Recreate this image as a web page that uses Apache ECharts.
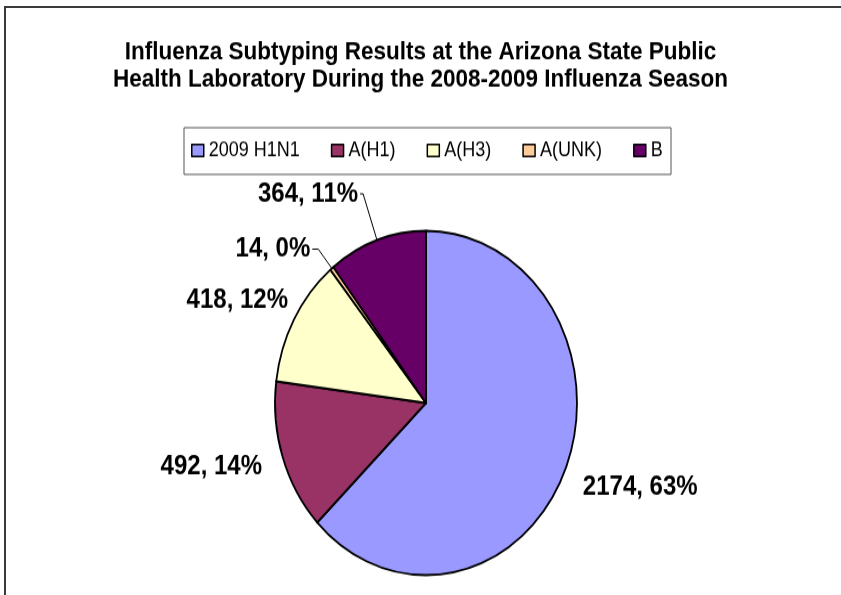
<!DOCTYPE html>
<html>
  <head>
    <meta charset="utf-8" />
    <title>Influenza Subtyping</title>
    <script src="https://cdn.jsdelivr.net/npm/echarts@6/dist/echarts.min.js"></script>
    <style>
      html { overflow: hidden; }
      html, body { margin: 0; padding: 0; background: #fff; width: 841px; height: 595px; position: relative; }
      /* the original pie is an ellipse, so the chart is stretched vertically */
      #main { width: 841px; height: 522px; transform: scaleY(1.14); transform-origin: 0 0; }
      /* outer frame: only its left and top edges show in the picture */
      #frame { position: absolute; left: 4px; top: 6px; width: 860px; height: 620px;
               border-left: 2px solid #3a3a3a; border-top: 2px solid #3a3a3a; pointer-events: none; }
    </style>
  </head>
  <body>
    <div id="main"></div>
    <div id="frame"></div>
    <script type="text/javascript">
      var categories = ['2009 H1N1', 'A(H1)', 'A(H3)', 'A(UNK)', 'B'];
      var counts = [2174, 492, 418, 14, 364];
      var colors = ['#9999FF', '#993366', '#FFFFCC', '#FFCC99', '#660066'];

      var myChart = echarts.init(document.getElementById('main'));
      var font = 'Liberation Sans, Arial, sans-serif';

      // label placement per slice (line lengths, small vertical nudges)
      var labelLines = [
        { show: false, length: 14, length2: 0 },
        { show: false, length: 16.5, length2: 0 },
        { show: false, length: 1, length2: 0 },
        { show: true, length: 21.7, length2: 6 },
        { show: true, length: 43, length2: 3 }
      ];
      var labelShift = [9, 3, -16.7, 0, 0];
      var labelDist = [5, 5, 5, 2, 2];

      var pieData = categories.map(function (name, i) {
        return {
          name: name,
          value: counts[i],
          itemStyle: { color: colors[i] },
          labelLine: labelLines[i],
          label: { distanceToLabelLine: labelDist[i] }
        };
      });

      var option = {
        backgroundColor: '#fff',
        animation: false,
        title: {
          text: 'Influenza Subtyping Results at the Arizona State Public\nHealth Laboratory During the 2008-2009 Influenza Season',
          left: 'center',
          top: 34,
          padding: 0,
          textStyle: { fontFamily: font, fontSize: 22.5, fontWeight: 'bold', color: '#000', lineHeight: 24 }
        },
        legend: {
          data: categories,
          left: 191,
          top: 122,
          padding: 0,
          itemGap: 31,
          itemWidth: 12,
          itemHeight: 10.5,
          icon: 'rect',
          itemStyle: { borderColor: '#000', borderWidth: 1.5 },
          textStyle: { fontFamily: font, fontSize: 18, color: '#000', lineHeight: 20 }
        },
        graphic: [
          {
            type: 'rect',
            shape: { x: 184, y: 112, width: 487, height: 41 },
            style: { fill: 'none', stroke: '#555', lineWidth: 1 }
          }
        ],
        series: [
          {
            type: 'pie',
            center: [426, 353.5],
            radius: 151,
            startAngle: 90,
            clockwise: true,
            avoidLabelOverlap: false,
            percentPrecision: 0,
            itemStyle: { borderColor: '#000', borderWidth: 1.8 },
            label: {
              show: true,
              position: 'outside',
              formatter: '{c}, {d}%',
              fontFamily: font,
              fontSize: 24,
              fontWeight: 'bold',
              color: '#000'
            },
            labelLine: {
              smooth: false,
              lineStyle: { color: '#000', width: 1 }
            },
            labelLayout: function (params) {
              return { dy: labelShift[params.dataIndex] };
            },
            emphasis: { disabled: true },
            data: pieData
          }
        ]
      };

      myChart.setOption(option);
    </script>
  </body>
</html>
